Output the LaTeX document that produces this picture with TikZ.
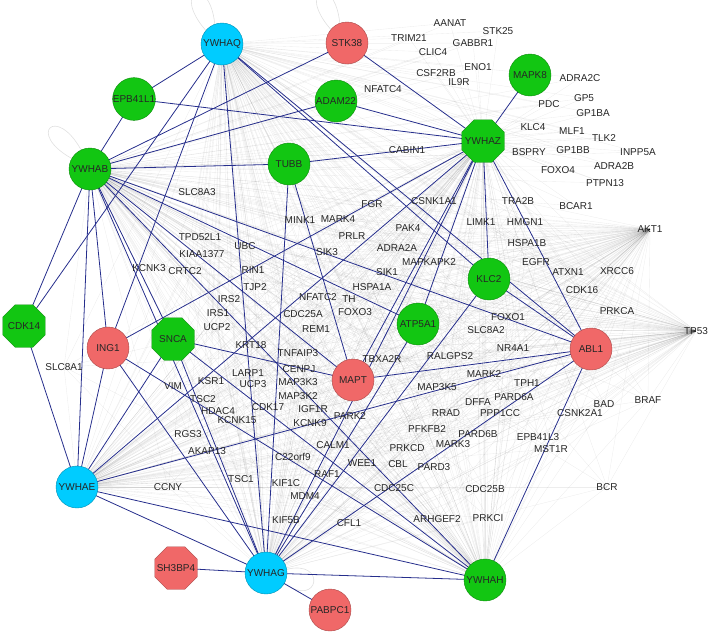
\documentclass[tikz,border=0pt]{standalone}
\usepackage{fontspec}
\setmainfont{Liberation Sans}
\usetikzlibrary{shapes.geometric,backgrounds}
\definecolor{ngreen}{RGB}{18,198,18}
\definecolor{ncyan}{RGB}{0,204,255}
\definecolor{nred}{RGB}{240,104,104}
\definecolor{eblue}{RGB}{38,46,140}
\begin{document}
\begin{tikzpicture}[x=1pt,y=-1pt,
  font=\fontsize{10}{12}\selectfont,
  round/.style={circle,minimum size=42pt,inner sep=0pt,text=black!85},
  oct/.style={regular polygon,regular polygon sides=8,minimum size=46pt,inner sep=0pt,
    label={[text=black!85]center:#1}},
  gfill/.style={fill=ngreen,draw=ngreen!70!black,line width=0.4pt},
  cfill/.style={fill=ncyan,draw=ncyan!70!black,line width=0.4pt},
  rfill/.style={fill=nred,draw=nred!70!black,line width=0.4pt},
  lab/.style={inner sep=0.5pt,text=black!85},
  bedge/.style={draw=eblue,line width=0.8pt},
  gedge/.style={draw=black,opacity=0.07,line width=0.35pt},
  loopst/.style={draw=black!12,line width=0.6pt}
]
\useasboundingbox (0,0) rectangle (709,633);
% ---- hub nodes
\node[round,cfill] (YWHAQ) at (222,44) {YWHAQ};
\node[round,rfill] (STK38) at (347,43) {STK38};
\node[round,gfill] (EPB41L1) at (134,99) {EPB41L1};
\node[round,gfill] (ADAM22) at (336,101) {ADAM22};
\node[round,gfill] (MAPK8) at (530,75) {MAPK8};
\node[oct=YWHAZ,gfill] (YWHAZ) at (483,141) {};
\node[round,gfill] (YWHAB) at (90,169) {YWHAB};
\node[round,gfill] (TUBB) at (289,164) {TUBB};
\node[oct=CDK14,gfill] (CDK14) at (24,326) {};
\node[round,rfill] (ING1) at (108,348) {ING1};
\node[oct=SNCA,gfill] (SNCA) at (173,339) {};
\node[round,rfill] (MAPT) at (353,380) {MAPT};
\node[round,gfill] (ATP5A1) at (418,324) {ATP5A1};
\node[round,gfill] (KLC2) at (489,279) {KLC2};
\node[round,rfill] (ABL1) at (591,349) {ABL1};
\node[round,cfill] (YWHAE) at (77,487) {YWHAE};
\node[oct=SH3BP4,rfill] (SH3BP4) at (176,568) {};
\node[round,cfill] (YWHAG) at (266,573) {YWHAG};
\node[round,rfill] (PABPC1) at (330,610) {PABPC1};
\node[round,gfill] (YWHAH) at (485,580) {YWHAH};
% ---- label nodes
\foreach \n/\x/\y in {AANAT/450/23,STK25/498/31,TRIM21/409/38,GABBR1/473/43,CLIC4/433/52,
  ENO1/478/67,CSF2RB/436/73,IL9R/459/82,NFATC4/383/89,ADRA2C/580/78,GP5/584/98,PDC/549/104,
  GP1BA/593/113,KLC4/533/127,MLF1/572/131,TLK2/604/138,GP1BB/573/150,INPP5A/638/152,
  BSPRY/529/152,CABIN1/407/150,FOXO4/558/170,ADRA2B/614/166,PTPN13/605/183,BCAR1/576/206}
  {\node[lab] (\n) at (\x,\y) {\n};}
\foreach \n/\x/\y in {FGR/372/204,CSNK1A1/434/201,TRA2B/518/201,
  SLC8A3/197/192,MINK1/300/220,MARK4/338/219,LIMK1/481/222,HMGN1/525/222,
  PAK4/408/228,PRLR/352/236,TPD52L1/200/237,UBC/245/246,ADRA2A/397/248,HSPA1B/527/243,
  KIAA1377/202/254,SIK3/327/252,MAPKAPK2/429/262,EGFR/536/262,KCNK3/149/268,CRTC2/185/271,
  RIN1/253/270,ATXN1/568/272,SIK1/387/272,TJP2/255/287,HSPA1A/372/287,
  NFATC2/318/297,IRS2/229/299,TH/349/299,FOXO3/355/312,IRS1/218/313,CDC25A/303/314,
  FOXO1/508/317,UCP2/217/327,REM1/316/329,SLC8A2/486/330,KRT18/251/345,
  NR4A1/513/348,TNFAIP3/298/353,RALGPS2/450/356,TBXA2R/382/359,SLC8A1/64/367,CENPJ/299/369,
  LARP1/248/373,MARK2/484/374,KSR1/211/381,MAP3K3/298/382,UCP3/253/384,TPH1/527/383,
  VIM/173/386,MAP3K5/437/387,MAP3K2/298/396,PARD6A/514/397,TSC2/203/399,DFFA/478/402,
  CDK17/268/407,IGF1R/313/409,HDAC4/218/411,RRAD/446/413,PPP1CC/500/413,
  CSNK2A1/580/413,PARK2/350/416,KCNK15/237/420,KCNK9/310/423,PFKFB2/427/429,PARD6B/478/434,
  RGS3/188/434,EPB41L3/538/437,MARK3/453/444,CALM1/333/445,PRKCD/407/448,MST1R/551/449,
  AKAP13/207/451,C22orf9/293/457,WEE1/362/463,CBL/398/464,PARD3/434/467,RAF1/327/474,
  TSC1/241/479,KIF1C/286/483,CCNY/168/487,CDC25C/394/488,CDC25B/485/489,
  MDM4/305/496,ARHGEF2/437/519,PRKCI/488/518,KIF5B/286/520,CFL1/349/523}
  {\node[lab] (\n) at (\x,\y) {\n};}
\foreach \n/\x/\y in {AKT1/650/229,XRCC6/617/271,CDK16/582/290,PRKCA/617/311,TP53/696/331,
  BAD/604/404,BRAF/648/400,BCR/607/487}
  {\node[lab] (\n) at (\x,\y) {\n};}
% ---- background web
\begin{scope}[on background layer]
\foreach \h in {YWHAQ,YWHAZ,YWHAB}{
  \foreach \l in {AANAT,STK25,TRIM21,GABBR1,CLIC4,ENO1,CSF2RB,IL9R,NFATC4,ADRA2C,GP5,PDC,
    GP1BA,KLC4,MLF1,TLK2,GP1BB,INPP5A,BSPRY,CABIN1,FOXO4,ADRA2B,PTPN13,BCAR1}
    {\draw[gedge] (\h.center) -- (\l.center);}}
\foreach \h in {YWHAQ,YWHAZ,YWHAB,YWHAE,YWHAG,YWHAH,AKT1,TP53}{
  \foreach \l in {FGR,CSNK1A1,TRA2B,SLC8A3,MINK1,MARK4,LIMK1,HMGN1,PAK4,PRLR,TPD52L1,UBC,
    ADRA2A,HSPA1B,KIAA1377,SIK3,MAPKAPK2,EGFR,KCNK3,CRTC2,RIN1,ATXN1,SIK1,TJP2,HSPA1A,
    NFATC2,IRS2,TH,FOXO3,IRS1,CDC25A,FOXO1,UCP2,REM1,SLC8A2,KRT18,NR4A1,TNFAIP3,RALGPS2,
    TBXA2R,SLC8A1,CENPJ,LARP1,MARK2,KSR1,MAP3K3,UCP3,TPH1,VIM,MAP3K5,MAP3K2,PARD6A,TSC2,
    DFFA,CDK17,IGF1R,HDAC4,RRAD,PPP1CC,CSNK2A1,PARK2,KCNK15,KCNK9,PFKFB2,PARD6B,RGS3,
    EPB41L3,MARK3,CALM1,PRKCD,MST1R,AKAP13,C22orf9,WEE1,CBL,PARD3,RAF1,TSC1,KIF1C,CCNY,
    CDC25C,CDC25B,MDM4,ARHGEF2,PRKCI,KIF5B,CFL1,XRCC6,CDK16,PRKCA,BAD,BRAF,BCR}
    {\draw[gedge] (\h.center) -- (\l.center);}}
% self loops
\draw[loopst] (YWHAQ.140) .. controls +(-35,-40) and +(-5,-50) .. (YWHAQ.110);
\draw[loopst] (STK38.140) .. controls +(-35,-40) and +(-5,-50) .. (STK38.110);
\draw[loopst] (YWHAB.150) .. controls +(-45,-25) and +(-25,-45) .. (YWHAB.115);
\draw[loopst] (YWHAG.10) .. controls +(40,-10) and +(35,25) .. (YWHAG.-30);
% ---- dark edges
\foreach \a/\b in {YWHAQ/EPB41L1,YWHAQ/CDK14,YWHAQ/ING1,YWHAQ/YWHAG,YWHAQ/KLC2,YWHAQ/ABL1,
  STK38/YWHAB,STK38/YWHAZ,EPB41L1/YWHAB,EPB41L1/YWHAZ,ADAM22/YWHAB,ADAM22/YWHAZ,
  MAPK8/YWHAZ,TUBB/YWHAB,TUBB/YWHAZ,TUBB/MAPT,TUBB/YWHAG,YWHAB/CDK14,YWHAB/ING1,
  YWHAB/SNCA,YWHAB/YWHAG,YWHAB/YWHAE,YWHAB/MAPT,YWHAB/ATP5A1,YWHAB/ABL1,YWHAB/YWHAH,
  YWHAZ/KLC2,YWHAZ/ABL1,YWHAZ/ATP5A1,YWHAZ/MAPT,YWHAZ/YWHAG,YWHAZ/ING1,YWHAZ/YWHAE,
  CDK14/YWHAE,ING1/YWHAE,ING1/YWHAG,ING1/YWHAH,SNCA/YWHAE,SNCA/YWHAG,SNCA/MAPT,SNCA/YWHAH,
  MAPT/ABL1,ATP5A1/YWHAG,KLC2/YWHAG,KLC2/ABL1,ABL1/YWHAE,ABL1/YWHAG,ABL1/YWHAH,
  YWHAE/YWHAG,YWHAE/YWHAH,YWHAG/YWHAH,YWHAG/SH3BP4,YWHAG/PABPC1}
  {\draw[bedge] (\a.center) -- (\b.center);}
\end{scope}
\end{tikzpicture}
\end{document}
